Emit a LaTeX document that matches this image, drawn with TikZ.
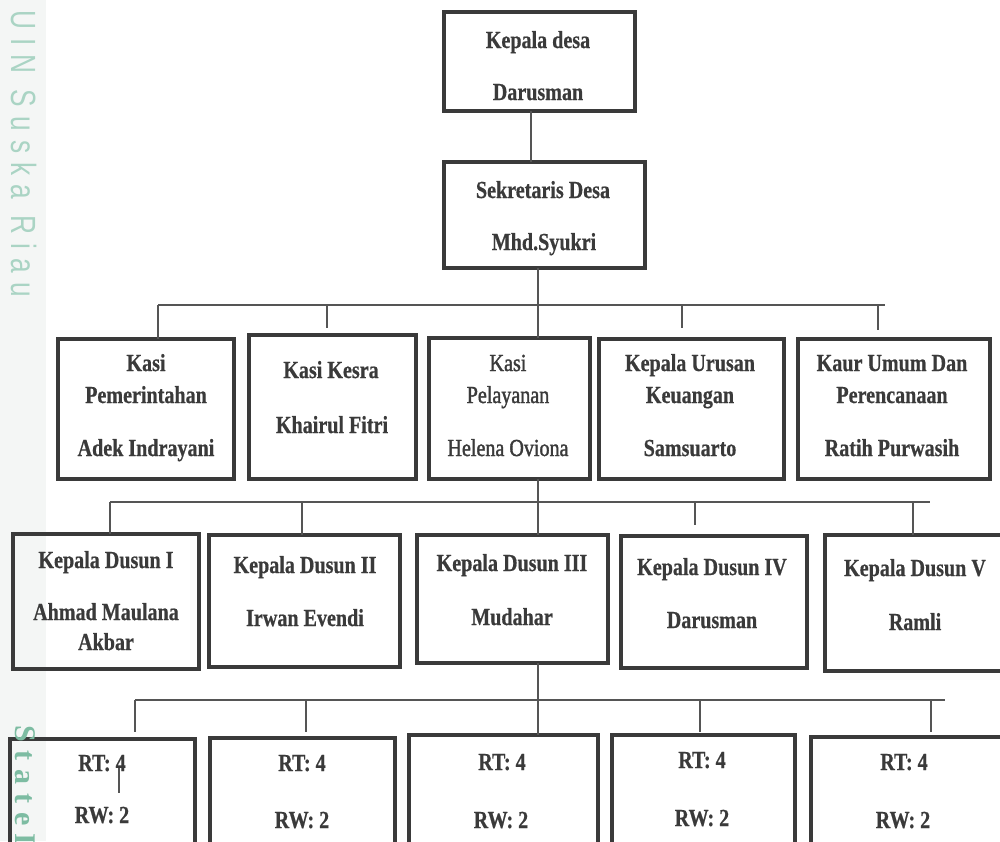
\documentclass[tikz,border=0pt]{standalone}
\usepackage{fontspec}
\newfontfamily\boxfont[FakeStretch=0.82,FakeBold=0.6]{Liberation Serif}
\newfontfamily\boxfontm[FakeStretch=0.82,FakeBold=1.5]{Liberation Serif}
\newfontfamily\wmsans[FakeStretch=0.75,LetterSpace=26]{Liberation Sans}
\newfontfamily\wmserif[LetterSpace=30]{Liberation Serif}
\definecolor{boxline}{RGB}{58,58,58}
\definecolor{txtcol}{RGB}{58,58,58}
\definecolor{conncol}{RGB}{85,85,85}
\definecolor{stripcol}{RGB}{244,246,245}
\definecolor{wmgreen}{RGB}{170,212,196}
\definecolor{wmgreenb}{RGB}{125,188,162}
\newcommand{\obox}[5]{\node[box, minimum width={#4-#2-4}, minimum height={#5-#3-4}] (#1) at ({(#2+#4)/2},{(#3+#5)/2}) {};}
\newcommand{\tline}[5][txt]{\node[#1] (#2) at (#3,{#4+8}) {#5};}
\begin{document}
\begin{tikzpicture}[x=1pt,y=-1pt,
  box/.style={draw=boxline, line width=4pt, rectangle, inner sep=0pt, outer sep=0pt},
  txt/.style={anchor=base, inner sep=0pt, text=txtcol, font=\boxfont\bfseries\fontsize{24.5}{28}\selectfont},
  txtreg/.style={txt, font=\boxfontm\fontsize{24.5}{28}\selectfont},
  conn/.style={draw=conncol, line width=1.4pt},
  gap/.style={shorten >=#1}]
\useasboundingbox (0,0) rectangle (1000,841);
\clip (0,0) rectangle (1000,841);
% left watermark strip
\fill[stripcol] (0,0) rectangle (46,841);
\node[anchor=base west, rotate=-90, inner sep=0pt, text=wmgreen,
      font=\wmsans\fontsize{35}{35}\selectfont] (wm1) at (12,10) {UIN Suska Riau};

% ---------- boxes ----------
\obox{kd}{442}{10}{637}{113}
\obox{sek}{442}{160}{647}{270}

\obox{kp}{56}{337}{236}{481}
\obox{kk}{247}{333}{418}{481}
\obox{kpel}{427}{336}{592}{481}
\obox{ku}{597}{337}{786}{481}
\obox{kaur}{796}{337}{992}{481}

\obox{da}{11}{532}{201}{671}
\obox{db}{207}{533}{402}{669}
\obox{dc}{415}{533}{610}{665}
\obox{dd}{619}{534}{809}{670}
\obox{de}{823}{533}{1006}{673}

\obox{ra}{8}{737}{197}{900}
\obox{rb}{208}{736}{397}{900}
\obox{rc}{407}{733}{600}{900}
\obox{rd}{610}{733}{797}{900}
\obox{re}{809}{735}{1006}{900}

% ---------- texts ----------
\tline{kd1}{538}{40}{Kepala desa}
\tline{kd2}{538}{92}{Darusman}
\tline{sk1}{543}{190}{Sekretaris Desa}
\tline{sk2}{544}{242}{Mhd.Syukri}

\tline{kp1}{146}{363}{Kasi}
\tline{kp2}{146}{395}{Pemerintahan}
\tline{kp3}{146}{448}{Adek Indrayani}
\tline{kk1}{331}{370}{Kasi Kesra}
\tline{kk2}{332}{425}{Khairul Fitri}
\tline[txtreg]{kl1}{508}{363}{Kasi}
\tline[txtreg]{kl2}{508}{395}{Pelayanan}
\tline[txtreg]{kl3}{508}{448}{Helena Oviona}
\tline{ku1}{690}{363}{Kepala Urusan}
\tline{ku2}{690}{395}{Keuangan}
\tline{ku3}{690}{448}{Samsuarto}
\tline{ka1}{892}{363}{Kaur Umum Dan}
\tline{ka2}{892}{395}{Perencanaan}
\tline{ka3}{892}{448}{Ratih Purwasih}

\tline{da1}{106}{560}{Kepala Dusun I}
\tline{da2}{106}{612}{Ahmad Maulana}
\tline{da3}{106}{642}{Akbar}
\tline{db1}{305}{565}{Kepala Dusun II}
\tline{db2}{305}{618}{Irwan Evendi}
\tline{dc1}{512}{563}{Kepala Dusun III}
\tline{dc2}{512}{617}{Mudahar}
\tline{dd1}{712}{567}{Kepala Dusun IV}
\tline{dd2}{712}{620}{Darusman}
\tline{de1}{915}{568}{Kepala Dusun V}
\tline{de2}{915}{622}{Ramli}

\tline{ra1}{102}{763}{RT: 4}
\tline{ra2}{102}{815}{RW: 2}
\tline{rb1}{302}{763}{RT: 4}
\tline{rb2}{302}{820}{RW: 2}
\tline{rc1}{502}{762}{RT: 4}
\tline{rc2}{501}{820}{RW: 2}
\tline{rd1}{702}{760}{RT: 4}
\tline{rd2}{702}{818}{RW: 2}
\tline{re1}{904}{762}{RT: 4}
\tline{re2}{903}{820}{RW: 2}

% ---------- connectors ----------
\coordinate (s1) at (531,0);
\coordinate (s2) at (538,0);
\draw[conn] (kd.south -| s1) -- (sek.north -| s1);
\draw[conn] (sek.south -| s2) -- (kpel.north -| s2);
\draw[conn] (kpel.south -| s2) -- (dc.north -| s2);
\draw[conn] (dc.south -| s2) -- (rc.north -| s2);

% level 3 bus
\coordinate (b3l) at (158,305);
\coordinate (b3b) at (327,305);
\coordinate (b3d) at (682,305);
\coordinate (b3r) at (885,305);
\coordinate (b3e) at (878,305);
\draw[conn] (b3l) -- (b3r);
\draw[conn] (b3l) -- (kp.north -| b3l);
\draw[conn, gap=7pt] (b3b) -- (kk.north -| b3b);
\draw[conn, gap=11pt] (b3d) -- (ku.north -| b3d);
\draw[conn, gap=9pt] (b3e) -- (kaur.north -| b3e);

% level 4 bus
\coordinate (b4l) at (110,502);
\coordinate (b4b) at (302,502);
\coordinate (b4d) at (695,502);
\coordinate (b4e) at (913,502);
\coordinate (b4r) at (930,502);
\draw[conn] (b4l) -- (b4r);
\draw[conn] (b4l) -- (da.north -| b4l);
\draw[conn] (b4b) -- (db.north -| b4b);
\draw[conn, gap=11pt] (b4d) -- (dd.north -| b4d);
\draw[conn] (b4e) -- (de.north -| b4e);

% level 5 bus
\coordinate (b5l) at (135,700);
\coordinate (b5b) at (306,700);
\coordinate (b5d) at (700,700);
\coordinate (b5e) at (931,700);
\coordinate (b5r) at (945,700);
\draw[conn] (b5l) -- (b5r);
\draw[conn, gap=7pt] (b5l) -- (ra.north -| b5l);
\draw[conn, gap=6pt] (b5b) -- (rb.north -| b5b);
\draw[conn, gap=3pt] (b5d) -- (rd.north -| b5d);
\draw[conn, gap=5pt] (b5e) -- (re.north -| b5e);

% stray mark inside first RT box
\coordinate (st1) at (119,768);
\coordinate (st2) at (119,793);
\draw[conn, line width=1.1pt] (st1) -- (st2);

% bottom-left watermark
\node[anchor=base west, rotate=-90, inner sep=0pt, text=wmgreenb,
      font=\wmserif\bfseries\fontsize{30}{30}\selectfont] (wm2) at (15,725) {State\hspace{7pt}Is};
\end{tikzpicture}
\end{document}
